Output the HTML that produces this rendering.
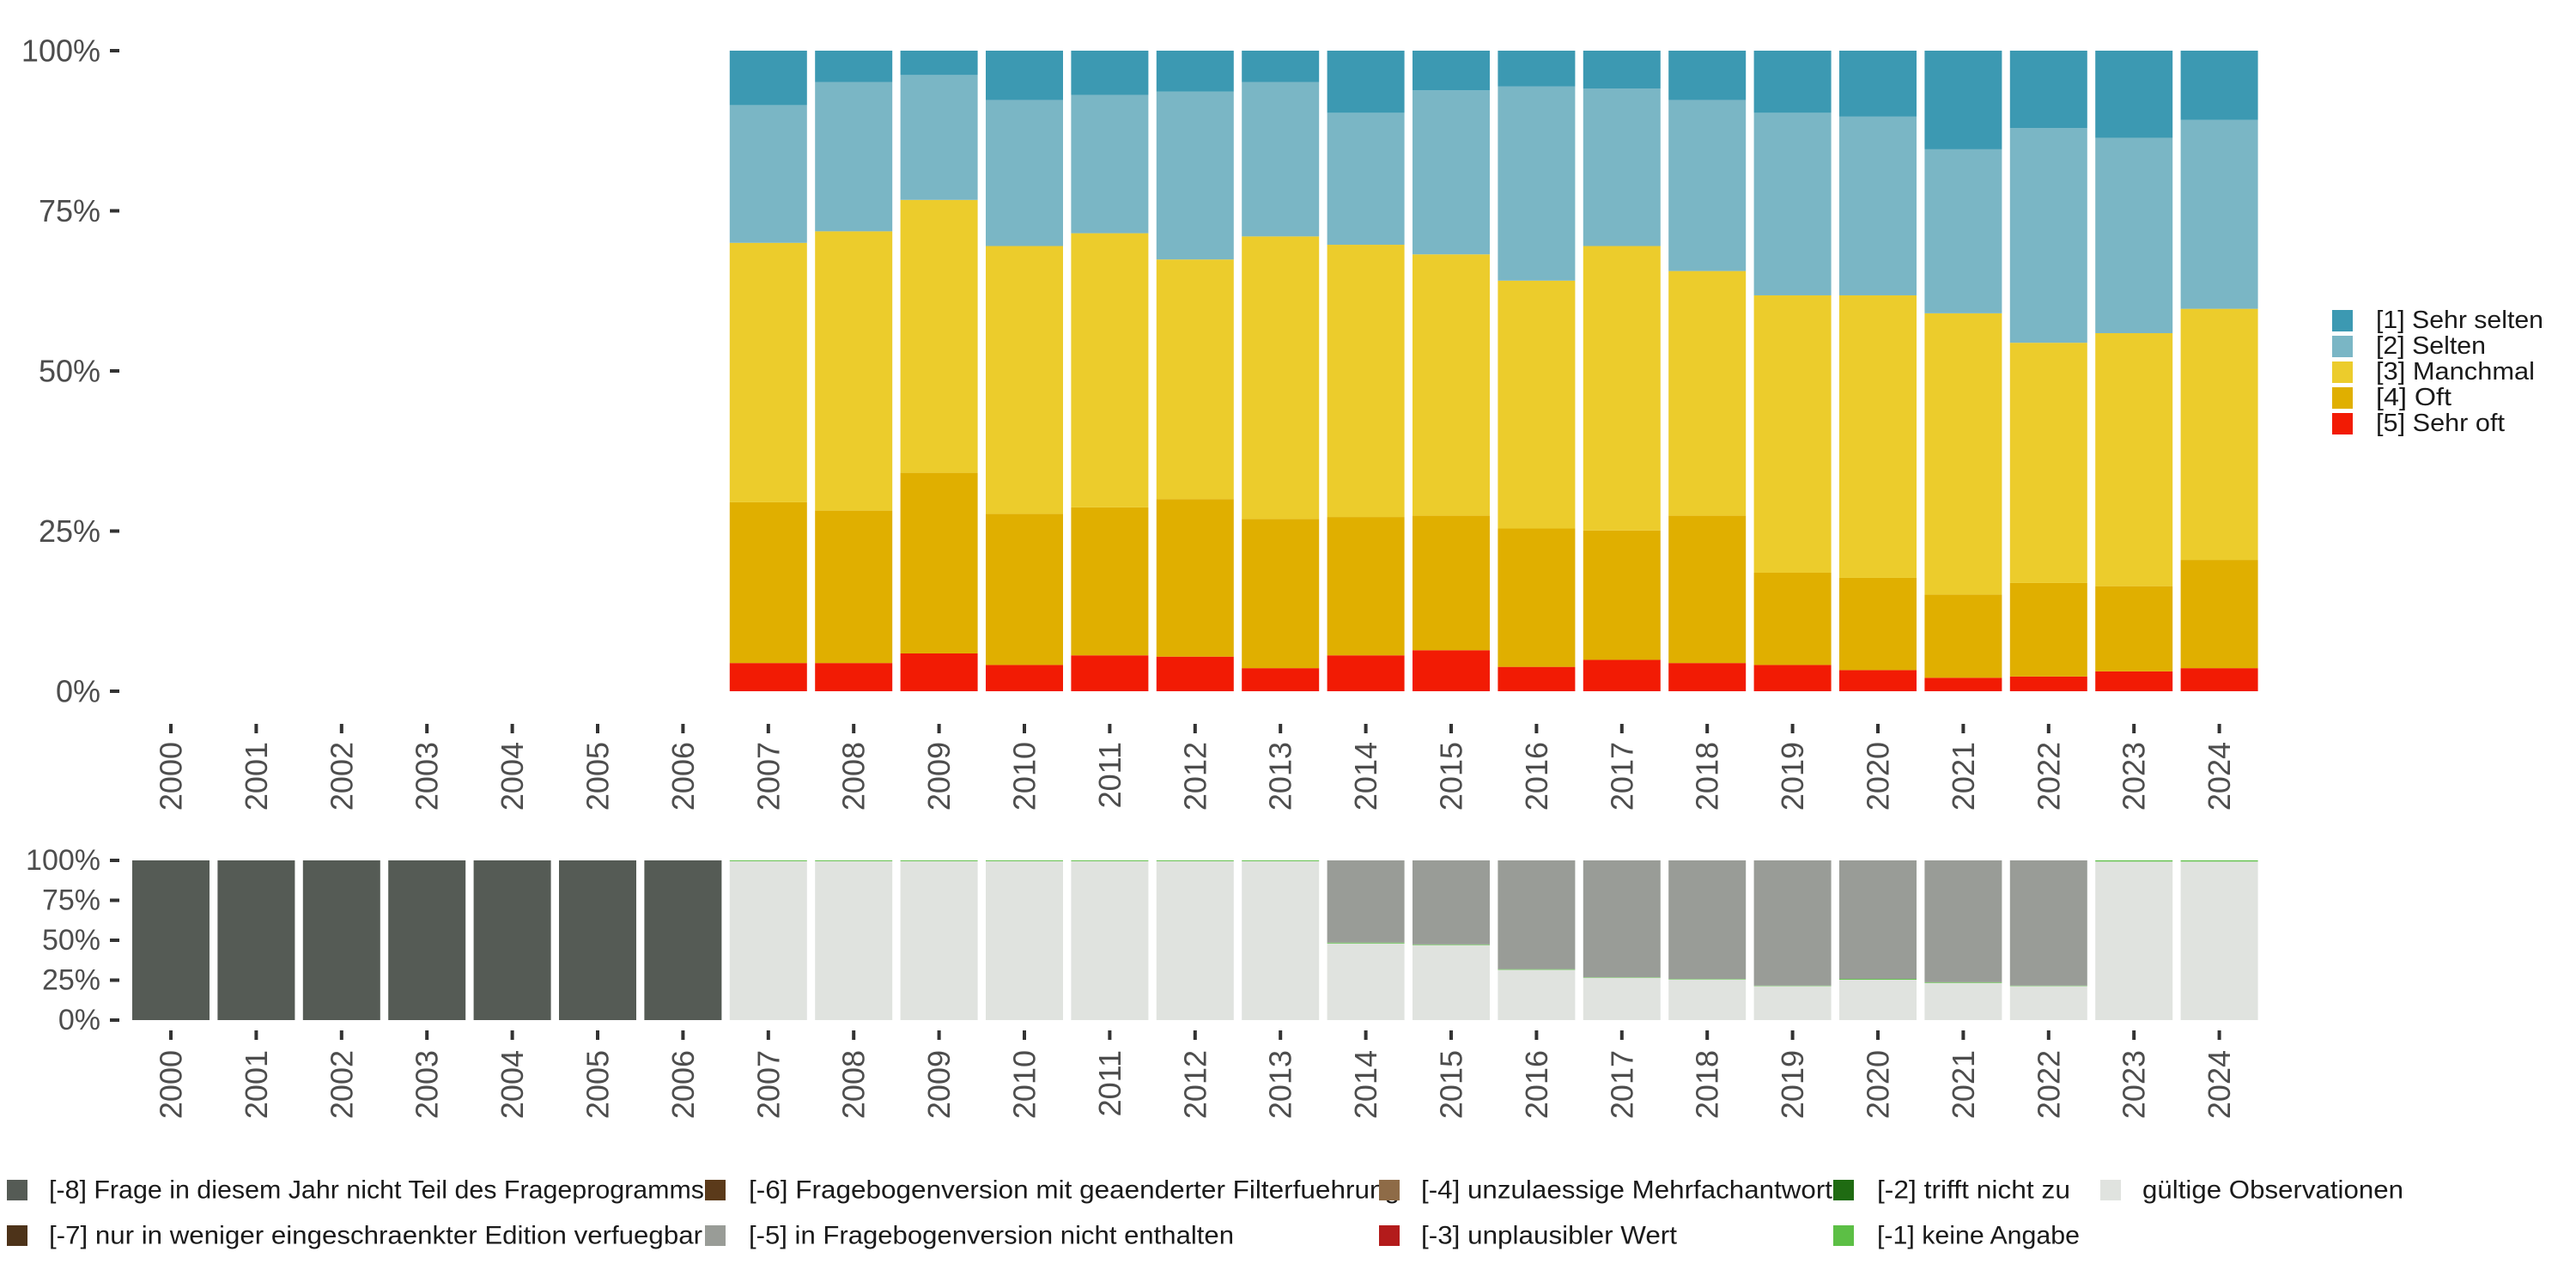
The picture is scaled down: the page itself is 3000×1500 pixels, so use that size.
<!DOCTYPE html>
<html><head><meta charset="utf-8"><style>
html,body{margin:0;padding:0;background:#fff;}
svg{display:block;font-family:"Liberation Sans",sans-serif;}
</style></head><body>
<svg id="chart" width="3000" height="1500" viewBox="0 0 3000 1500" xmlns="http://www.w3.org/2000/svg">
<g id="topPlot"></g>
<g id="bottomPlot"></g>
<g id="legR"></g>
<g id="legB"></g>
</svg>
<script>
const years = [2000,2001,2002,2003,2004,2005,2006,2007,2008,2009,2010,2011,2012,2013,2014,2015,2016,2017,2018,2019,2020,2021,2022,2023,2024];
// top chart: share of each answer (percent), null = no data
const sehrOft   = [null,null,null,null,null,null,null,4.4,4.4,5.9,4.1,5.6,5.4,3.6,5.6,6.4,3.8,4.9,4.4,4.1,3.3,2.1,2.3,3.1,3.6];
const oft       = [null,null,null,null,null,null,null,25.1,23.8,28.2,23.6,23.1,24.6,23.3,21.6,21.0,21.6,20.2,23.0,14.4,14.4,13.0,14.6,13.3,16.9];
const manchmal  = [null,null,null,null,null,null,null,40.5,43.6,42.6,41.8,42.8,37.4,44.1,42.5,40.8,38.7,44.4,38.2,43.3,44.1,43.9,37.5,39.5,39.2];
const selten    = [null,null,null,null,null,null,null,21.5,23.3,19.5,22.8,21.6,26.2,24.1,20.6,25.6,30.3,24.6,26.7,28.5,27.9,25.6,33.5,30.5,29.5];
const sehrSelten= [null,null,null,null,null,null,null,8.5,4.9,3.8,7.7,6.9,6.4,4.9,9.7,6.2,5.6,5.9,7.7,9.7,10.3,15.4,12.1,13.6,10.8];
const topTicks = [0,25,50,75,100];
const topTickLabels = ["0%","25%","50%","75%","100%"];
// bottom chart: missing categories (percent)
const valid  = [0,0,0,0,0,0,0,99.5,99.5,99.5,99.5,99.5,99.5,99.5,48.0,47.0,31.5,26.5,25.5,21.3,25.3,23.3,21.3,99.3,99.3];
const miss1  = [0,0,0,0,0,0,0,0.5,0.5,0.5,0.5,0.5,0.5,0.5,0.5,0.4,0.4,0.3,0.3,0.3,0.5,0.4,0.3,0.7,0.7];
const miss5  = [0,0,0,0,0,0,0,0,0,0,0,0,0,0,51.5,52.6,68.1,73.2,74.2,78.4,74.2,76.3,78.4,0,0];
const miss8  = [100,100,100,100,100,100,100,0,0,0,0,0,0,0,0,0,0,0,0,0,0,0,0,0,0];

const NS="http://www.w3.org/2000/svg";
function mk(parent,tag,attrs,text){const e=document.createElementNS(NS,tag);for(const k in attrs)e.setAttribute(k,attrs[k]);if(text!==undefined)e.textContent=text;parent.appendChild(e);return e;}
const x0=199, pitch=99.4, bw=90;
function xC(i){return x0+i*pitch;}
function yTop(p){return 805-p*7.46;}
function yBot(p){return 1188-p*1.86;}

const topG=document.getElementById('topPlot');
const botG=document.getElementById('bottomPlot');
const topSeries=[[sehrOft,'#f21b04','sehr-oft'],[oft,'#e0af00','oft'],[manchmal,'#eccc2c','manchmal'],[selten,'#7ab6c5','selten'],[sehrSelten,'#3c99b2','sehr-selten']];
years.forEach((yr,i)=>{
  let acc=0;
  topSeries.forEach(([arr,col,nm])=>{
    const v=arr[i]; if(v==null) return;
    const r=mk(topG,'rect',{x:xC(i)-bw/2,y:yTop(acc+v),width:bw,height:yTop(acc)-yTop(acc+v),fill:col});
    
    
    acc+=v;
  });
  const t=mk(topG,'rect',{x:xC(i)-2,y:843,width:4,height:11,fill:'#333'});
  
  
  const l=mk(topG,'text',{transform:`translate(${xC(i)},864) rotate(-90)`,'text-anchor':'end','dominant-baseline':'central','font-size':36,fill:'#4d4d4d'},String(yr));
  
  

  let b=0;
  [[valid,'#e0e3df','valid'],[miss1,'#5cbf45','minus1'],[miss5,'#999c97','minus5'],[miss8,'#555b55','minus8']].forEach(([arr,col,nm])=>{
    const v=arr[i]; if(!v) return;
    const r=mk(botG,'rect',{x:xC(i)-bw/2,y:yBot(b+v),width:bw,height:yBot(b)-yBot(b+v),fill:col});
    
    
    b+=v;
  });
  const t2=mk(botG,'rect',{x:xC(i)-2,y:1200,width:4,height:11,fill:'#333'});
  
  
  const l2=mk(botG,'text',{transform:`translate(${xC(i)},1223) rotate(-90)`,'text-anchor':'end','dominant-baseline':'central','font-size':36,fill:'#4d4d4d'},String(yr));
  
  
});
topTicks.forEach((p,k)=>{
  const t=mk(topG,'rect',{x:128,y:yTop(p)-2,width:11,height:4,fill:'#333'});
  
  
  const l=mk(topG,'text',{x:117,y:yTop(p),'text-anchor':'end','dominant-baseline':'central','font-size':36,fill:'#4d4d4d'},topTickLabels[k]);
  
  
  const t2=mk(botG,'rect',{x:128,y:yBot(p)-2,width:11,height:4,fill:'#333'});
  
  
  const l2=mk(botG,'text',{x:117,y:yBot(p),'text-anchor':'end','dominant-baseline':'central','font-size':34,fill:'#4d4d4d'},topTickLabels[k]);
  
  
});

const legR=document.getElementById('legR');
[['[1] Sehr selten','#3c99b2',195],['[2] Selten','#7ab6c5',128],['[3] Manchmal','#eccc2c',185],['[4] Oft','#e0af00',88],['[5] Sehr oft','#f21b04',150]].forEach(([lab,col,w],k)=>{
  const cy=373+k*30;
  const s=mk(legR,'rect',{x:2716,y:cy-12,width:24,height:25,fill:col});
  
  
  const t=mk(legR,'text',{x:2767,y:cy,'dominant-baseline':'central','font-size':29,fill:'#1a1a1a',textLength:w,lengthAdjust:'spacingAndGlyphs'},lab);
  
  
});

const legB=document.getElementById('legB');
[
 [8,1386,57,763,'#555b55','[-8] Frage in diesem Jahr nicht Teil des Frageprogramms'],
 [8,1439,57,761,'#4d3319','[-7] nur in weniger eingeschraenkter Edition verfuegbar'],
 [821,1386,872,758,'#5b3a1a','[-6] Fragebogenversion mit geaenderter Filterfuehrung'],
 [821,1439,872,565,'#999c97','[-5] in Fragebogenversion nicht enthalten'],
 [1606,1386,1655,479,'#8e6b47','[-4] unzulaessige Mehrfachantwort'],
 [1606,1439,1655,298,'#b31b1b','[-3] unplausibler Wert'],
 [2135,1386,2186,225,'#1f6b12','[-2] trifft nicht zu'],
 [2135,1439,2186,236,'#5cbf45','[-1] keine Angabe'],
 [2446,1386,2495,304,'#e0e3df','gültige Observationen']
].forEach(([sx,cy,tx,w,col,lab])=>{
  const s=mk(legB,'rect',{x:sx,y:cy-12,width:24,height:24,fill:col});
  
  
  const t=mk(legB,'text',{x:tx,y:cy,'dominant-baseline':'central','font-size':30,fill:'#1a1a1a',textLength:w,lengthAdjust:'spacingAndGlyphs'},lab);
  
  
});
</script>
</body></html>
